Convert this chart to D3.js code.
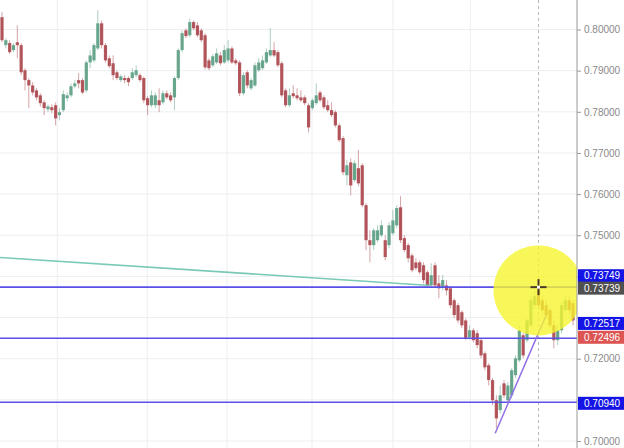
<!DOCTYPE html>
<html>
<head>
<meta charset="utf-8">
<script src="https://cdnjs.cloudflare.com/ajax/libs/d3/7.8.5/d3.min.js"></script>
<style>
body { margin: 0; background: #fff; }
svg { display: block; font-family: "Liberation Sans", Arial, sans-serif; }
</style>
</head>
<body>
<svg width="624" height="448"></svg>
<script>
// candles (oldest first)
var opens = [.8030,.7962,.7967,.7950,.7969,.7962,.7901,.7877,.7864,.7852,
    .7840,.7823,.7806,.7811,.7816,.7792,.7804,.7833,.7840,.7862,
    .7877,.7877,.7852,.7920,.7925,.7954,.8015,.7962,.7930,.7918,
    .7896,.7877,.7882,.7882,.7882,.7889,.7889,.7882,.7833,.7816,
    .7816,.7828,.7823,.7845,.7840,.7835,.7882,.7950,.7998,.7986,
    .8018,.8010,.7998,.7986,.7925,.7913,.7920,.7937,.7920,.7925,
    .7954,.7925,.7920,.7845,.7896,.7857,.7864,.7901,.7906,.7920,
    .7937,.7950,.7945,.7918,.7852,.7816,.7845,.7840,.7835,.7835,
    .7816,.7809,.7821,.7847,.7835,.7816,.7804,.7799,.7767,.7736,
    .7646,.7677,.7634,.7663,.7670,.7573,.7488,.7476,.7488,.7500,
    .7488,.7476,.7505,.7524,.7568,.7493,.7476,.7451,.7434,.7434,
    .7427,.7410,.7378,.7427,.7383,.7374,.7378,.7371,.7342,.7330,
    .7313,.7293,.7252,.7269,.7262,.7245,.7213,.7184,.7148,.7099,
    .7075,.7140,.7099,.7111,.7160,.7196,.7257,.7245,.7281,.7330,
    .7366,.7342,.7330,.7318,.7281,.7245,.7269,.7318,.7342,.7335];

var highs = [.8042,.7979,.7974,.7967,.8010,.7967,.7906,.7882,.7872,.7857,
    .7845,.7828,.7818,.7818,.7823,.7809,.7852,.7847,.7869,.7877,
    .7894,.7882,.7925,.7950,.7967,.8047,.8022,.7967,.7937,.7937,
    .7901,.7891,.7889,.7886,.7906,.7913,.7894,.7886,.7838,.7852,
    .7847,.7857,.7852,.7852,.7847,.7886,.7954,.7998,.8003,.8027,
    .8022,.8018,.8003,.7991,.7930,.7940,.7954,.7945,.7962,.7974,
    .7959,.7930,.7925,.7896,.7901,.7882,.7920,.7930,.7937,.7954,
    .8003,.7969,.7950,.7923,.7857,.7857,.7864,.7857,.7852,.7840,
    .7821,.7833,.7869,.7852,.7840,.7828,.7823,.7804,.7772,.7741,
    .7682,.7687,.7682,.7707,.7675,.7578,.7512,.7517,.7524,.7536,
    .7500,.7532,.7561,.7573,.7595,.7500,.7481,.7456,.7444,.7439,
    .7434,.7415,.7432,.7434,.7403,.7403,.7391,.7376,.7347,.7335,
    .7318,.7298,.7281,.7274,.7269,.7250,.7218,.7189,.7153,.7111,
    .7135,.7148,.7143,.7177,.7208,.7281,.7264,.7298,.7352,.7366,
    .7383,.7354,.7342,.7323,.7293,.7281,.7337,.7352,.7352,.7342];

var lows = [.7969,.7954,.7940,.7945,.7930,.7889,.7852,.7809,.7840,.7828,
    .7813,.7792,.7799,.7796,.7767,.7779,.7799,.7826,.7835,.7857,
    .7857,.7843,.7847,.7906,.7920,.7950,.7954,.7920,.7906,.7877,
    .7877,.7872,.7869,.7862,.7877,.7884,.7872,.7821,.7792,.7811,
    .7809,.7799,.7818,.7830,.7823,.7804,.7877,.7945,.7979,.7981,
    .7998,.7981,.7969,.7903,.7901,.7908,.7916,.7913,.7916,.7920,
    .7916,.7913,.7838,.7840,.7857,.7852,.7860,.7896,.7901,.7916,
    .7933,.7933,.7908,.7835,.7811,.7811,.7833,.7828,.7823,.7816,
    .7750,.7804,.7816,.7823,.7806,.7799,.7787,.7762,.7726,.7646,
    .7621,.7597,.7629,.7619,.7568,.7464,.7434,.7464,.7483,.7495,
    .7439,.7468,.7500,.7517,.7481,.7459,.7434,.7410,.7415,.7405,
    .7383,.7374,.7374,.7374,.7347,.7366,.7354,.7323,.7298,.7286,
    .7274,.7245,.7247,.7240,.7225,.7201,.7172,.7135,.7087,.7031,
    .7067,.7104,.7092,.7104,.7153,.7191,.7201,.7240,.7276,.7323,
    .7323,.7310,.7298,.7274,.7225,.7233,.7262,.7313,.7308,.7281];

var closes = [.7974,.7974,.7945,.7962,.7962,.7896,.7877,.7864,.7847,.7835,
    .7821,.7809,.7813,.7804,.7784,.7799,.7843,.7840,.7862,.7869,
    .7869,.7847,.7920,.7937,.7962,.8015,.7962,.7925,.7911,.7889,
    .7882,.7886,.7877,.7872,.7896,.7901,.7877,.7828,.7816,.7840,
    .7840,.7816,.7845,.7835,.7828,.7882,.7950,.7991,.7984,.8018,
    .8003,.7986,.7974,.7908,.7906,.7935,.7942,.7918,.7950,.7954,
    .7920,.7918,.7845,.7889,.7864,.7877,.7913,.7920,.7925,.7945,
    .7950,.7937,.7913,.7840,.7816,.7840,.7838,.7833,.7828,.7821,
    .7762,.7828,.7840,.7828,.7811,.7804,.7792,.7767,.7731,.7653,
    .7670,.7621,.7675,.7626,.7573,.7488,.7476,.7512,.7512,.7524,
    .7447,.7524,.7536,.7566,.7488,.7464,.7444,.7415,.7420,.7410,
    .7391,.7378,.7403,.7378,.7371,.7391,.7366,.7330,.7306,.7293,
    .7281,.7250,.7269,.7245,.7233,.7208,.7179,.7148,.7099,.7055,
    .7111,.7111,.7135,.7172,.7201,.7269,.7208,.7293,.7342,.7352,
    .7330,.7318,.7306,.7281,.7245,.7269,.7330,.7342,.7318,.7293];

var priceTicks = [0.70, 0.71, 0.72, 0.73, 0.74, 0.75, 0.76, 0.77, 0.78, 0.79, 0.80];
var timeGrid = [14.4, 37.9, 58.7, 80.9, 102, 122.2];

// drawings on the chart
var levels = [0.73739, 0.72496, 0.70940];
var tealLine = [[-0.5, 0.7446], [111.7, 0.7378]];
var purpleLine = [[128.7, 0.7019], [142, 0.7306]];
var marker = {i: 140, price: 0.73739, circlePrice: 0.7366};

var priceLabels = [
    {value: 0.73749, kind: "blue"},
    {value: 0.73739, kind: "gray"},
    {value: 0.72517, kind: "blue"},
    {value: 0.72496, kind: "red"},
    {value: 0.70940, kind: "blue"}
];
var labelShift = [-11, 1, -14, -1, 1];
var labelColor = {blue: "#1414e6", gray: "#505050", red: "#dc5552"};

var svg = d3.select("svg");
var W = 624, H = 448, axisX = 577;

var x = d3.scaleLinear().domain([0, opens.length - 1]).range([2, 573]);
var y = d3.scaleLinear().domain([0.70, 0.80]).range([441, 29.5]);

svg.append("rect").attr("width", W).attr("height", H).attr("fill", "#fff");

// grid
svg.selectAll(".hgrid").data(priceTicks).enter().append("line")
    .attr("class", "hgrid")
    .attr("x1", 0).attr("x2", axisX)
    .attr("y1", function(d) { return y(d); })
    .attr("y2", function(d) { return y(d); })
    .attr("stroke", "#eceef1").attr("stroke-width", 1);

svg.selectAll(".vgrid").data(timeGrid).enter().append("line")
    .attr("class", "vgrid")
    .attr("x1", function(d) { return x(d); })
    .attr("x2", function(d) { return x(d); })
    .attr("y1", 0).attr("y2", H)
    .attr("stroke", "#eceef1").attr("stroke-width", 1);

// crosshair vertical
svg.append("line")
    .attr("x1", x(marker.i)).attr("x2", x(marker.i))
    .attr("y1", 0).attr("y2", H)
    .attr("stroke", "#b8b8b8").attr("stroke-dasharray", "3,3");

// candles
var idx = d3.range(opens.length);
var up = "#5e9f86", down = "#ad4a50";

svg.selectAll(".wick").data(idx).enter().append("line")
    .attr("class", "wick")
    .attr("x1", function(i) { return x(i); })
    .attr("x2", function(i) { return x(i); })
    .attr("y1", function(i) { return y(highs[i]); })
    .attr("y2", function(i) { return y(lows[i]); })
    .attr("stroke", function(i) { return closes[i] >= opens[i] ? up : down; })
    .attr("stroke-opacity", 0.5)
    .attr("stroke-width", 1);

svg.selectAll(".body").data(idx).enter().append("rect")
    .attr("class", "body")
    .attr("x", function(i) { return x(i) - 1.6; })
    .attr("width", 3.2)
    .attr("y", function(i) { return y(Math.max(opens[i], closes[i])); })
    .attr("height", function(i) {
        return Math.max(1, Math.abs(y(opens[i]) - y(closes[i])));
    })
    .attr("fill", function(i) { return closes[i] >= opens[i] ? up : down; })
    .attr("fill-opacity", 0.92);

// trend lines and levels
var lineGen = d3.line()
    .x(function(d) { return x(d[0]); })
    .y(function(d) { return y(d[1]); });

svg.append("path").attr("d", lineGen(tealLine))
    .attr("fill", "none").attr("stroke", "#79c9b6").attr("stroke-width", 1.5);

svg.selectAll(".level").data(levels).enter().append("line")
    .attr("class", "level")
    .attr("x1", 0).attr("x2", axisX)
    .attr("y1", function(d) { return y(d); })
    .attr("y2", function(d) { return y(d); })
    .attr("stroke", "#5a4fe6").attr("stroke-width", 1.6);

svg.append("path").attr("d", lineGen(purpleLine))
    .attr("fill", "none").attr("stroke", "#9270e6").attr("stroke-width", 1.5);

// highlight circle
svg.append("circle")
    .attr("cx", x(marker.i)).attr("cy", y(marker.circlePrice))
    .attr("r", 45)
    .attr("fill", "#f6f530").attr("fill-opacity", 0.8);

// cross marker
var cx = x(marker.i), cy = y(marker.price);
svg.append("line").attr("x1", cx - 8).attr("x2", cx + 8).attr("y1", cy).attr("y2", cy)
    .attr("stroke", "#4b3a28").attr("stroke-width", 2);
svg.append("line").attr("x1", cx).attr("x2", cx).attr("y1", cy - 8).attr("y2", cy + 8)
    .attr("stroke", "#4b3a28").attr("stroke-width", 2);
svg.append("rect").attr("x", cx - 1.5).attr("y", cy - 1.5).attr("width", 3).attr("height", 3)
    .attr("fill", "#fff");

// price axis
svg.append("rect").attr("x", axisX).attr("y", 0).attr("width", W - axisX).attr("height", H)
    .attr("fill", "#fff");
svg.append("line").attr("x1", axisX).attr("x2", axisX).attr("y1", 0).attr("y2", H)
    .attr("stroke", "#9a9a9a");

// tick labels that a price tag covers are left out, as on the chart
function coveredByTag(v) {
    return priceLabels.some(function(d, i) {
        return Math.abs(y(d.value) + labelShift[i] - y(v)) < 11;
    });
}

var yAxis = d3.axisRight(y)
    .tickValues(priceTicks)
    .tickFormat(function(d) { return coveredByTag(d) ? "" : d3.format(".5f")(d); })
    .tickSize(4)
    .tickPadding(3);

var ax = svg.append("g").attr("transform", "translate(" + axisX + ",0)").call(yAxis);
ax.select(".domain").remove();
ax.selectAll(".tick line").attr("stroke", "#9a9a9a");
ax.selectAll(".tick text")
    .attr("fill", "#8a8a8a")
    .style("font-size", "10px");

// price tags
var tags = svg.selectAll(".tag").data(priceLabels).enter().append("g")
    .attr("class", "tag")
    .attr("transform", function(d, i) {
        return "translate(" + (axisX + 1) + "," + (y(d.value) + labelShift[i]) + ")";
    });

tags.append("rect")
    .attr("x", 0).attr("y", -6.5)
    .attr("width", W - axisX).attr("height", 13)
    .attr("fill", function(d) { return labelColor[d.kind]; });

tags.append("text")
    .attr("x", 6).attr("y", 0)
    .attr("dy", "0.35em")
    .attr("fill", "#fff")
    .style("font-size", "10px")
    .text(function(d) { return d3.format(".5f")(d.value); });
</script>
</body>
</html>
